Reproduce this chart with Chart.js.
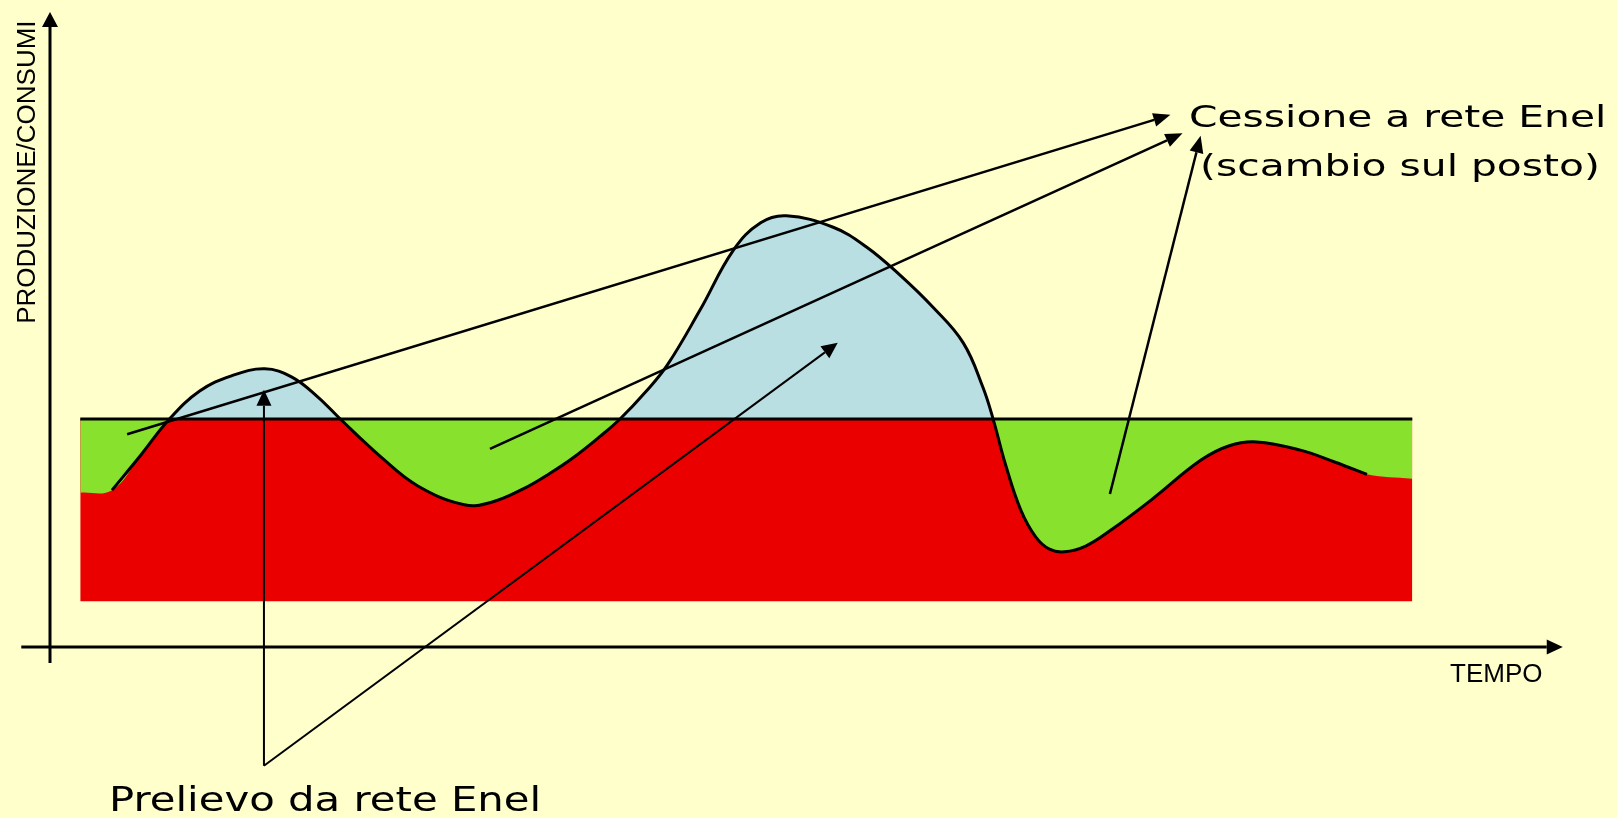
<!DOCTYPE html>
<html lang="it">
<head>
<meta charset="utf-8">
<title>Produzione / consumi</title>
<script src="https://cdn.jsdelivr.net/npm/chart.js@4.4.1/dist/chart.umd.min.js"></script>
<style>
  html, body { margin: 0; padding: 0; background: #ffffcc; overflow: hidden; }
  #grafico { display: block; }
</style>
</head>
<body>
<canvas id="grafico" width="1617" height="818"></canvas>
<script>
// Dati (unità arbitrarie, asse 0-100)
const tempo = [2.0, 4.1, 6.0, 7.9, 9.9, 12.0, 14.2, 16.0, 17.7, 19.2, 21.9, 24.3, 27.4, 29.2, 31.3, 33.1, 34.6, 36.4, 37.7, 39.4, 40.8, 43.0, 45.2, 47.0, 48.7, 51.8, 54.0, 56.2, 58.4, 60.4, 61.7, 62.4, 63.2, 64.2, 65.2, 66.1, 67.1, 68.5, 70.1, 72.8, 76.1, 78.0, 79.8, 82.7, 85.0, 87.1, 90.1];
const produzione = [24.3, 24.7, 30.2, 35.9, 40.3, 42.7, 43.8, 42.5, 39.4, 35.9, 29.9, 25.4, 22.4, 22.8, 24.9, 27.4, 29.8, 33.2, 35.9, 40.2, 44.3, 53.1, 62.5, 66.8, 67.9, 66.1, 63.0, 58.6, 53.5, 47.9, 40.9, 35.7, 28.7, 21.6, 17.3, 15.4, 15.0, 15.9, 18.3, 23.1, 29.4, 31.7, 32.3, 31.0, 29.1, 27.2, 26.5];
const tempoConsumi = [2.0, 90.1];
const consumi = [35.9, 35.9];
const baseArea = 7.2;

// Etichette
const titoloY = 'PRODUZIONE/CONSUMI';
const titoloX = 'TEMPO';
const testoCessione = ['Cessione a rete Enel', '(scambio sul posto)'];
const testoPrelievo = 'Prelievo da rete Enel';

// Palette
const palette = {
  sfondo: '#ffffcc',
  rosso: '#eb0000',
  verde: '#87e12d',
  azzurro: '#b9dfe3',
  nero: '#000000'
};

// Frecce di annotazione, in unità del grafico: [t0, v0, t1, v1]
const frecceCessione = [
  [5.1, 33.5, 74.1, 83.8],
  [29.1, 31.2, 74.9, 80.9],
  [70.1, 24.1, 76.1, 80.5]
];
const frecceOrigine = [14.15, -18.7];
const freccePrelievo = [
  [14.15, 40.5],
  [52.1, 47.9]
];

function freccia(ctx, x0, y0, x1, y1, lung, mezza) {
  const ang = Math.atan2(y1 - y0, x1 - x0);
  const bx = x1 - lung * Math.cos(ang);
  const by = y1 - lung * Math.sin(ang);
  ctx.beginPath();
  ctx.moveTo(x0, y0);
  ctx.lineTo(bx, by);
  ctx.stroke();
  ctx.beginPath();
  ctx.moveTo(x1, y1);
  ctx.lineTo(bx - mezza * Math.sin(ang), by + mezza * Math.cos(ang));
  ctx.lineTo(bx + mezza * Math.sin(ang), by - mezza * Math.cos(ang));
  ctx.closePath();
  ctx.fill();
}

function testoLargo(ctx, testo, x, y, font, scala) {
  ctx.save();
  ctx.translate(x, y);
  ctx.scale(scala, 1);
  ctx.font = font;
  ctx.textAlign = 'left';
  ctx.textBaseline = 'alphabetic';
  ctx.fillText(testo, 0, 0);
  ctx.restore();
}

// Sfondo giallo
const sfondo = {
  id: 'sfondo',
  beforeDraw(chart) {
    const { ctx, width, height } = chart;
    ctx.save();
    ctx.fillStyle = palette.sfondo;
    ctx.fillRect(0, 0, width, height);
    ctx.restore();
  }
};

// Assi con frecce, testi e frecce di annotazione
const annotazioni = {
  id: 'annotazioni',
  afterDraw(chart) {
    const ctx = chart.ctx;
    const sx = chart.scales.x, sy = chart.scales.y;
    const px = v => sx.getPixelForValue(v);
    const py = v => sy.getPixelForValue(v);
    ctx.save();
    ctx.strokeStyle = palette.nero;
    ctx.fillStyle = palette.nero;
    ctx.lineCap = 'butt';

    // assi
    ctx.lineWidth = 3;
    freccia(ctx, px(0), py(-2.5), px(0), py(100), 15, 8);
    freccia(ctx, px(-1.9), py(0), px(100.05), py(0), 16, 7.5);

    // titoli assi
    ctx.save();
    ctx.translate(px(-0.99), py(50.9));
    ctx.rotate(-Math.PI / 2);
    ctx.font = '26px "Liberation Sans", Arial, sans-serif';
    ctx.textAlign = 'left';
    ctx.textBaseline = 'alphabetic';
    ctx.fillText(titoloY, 0, 0);
    ctx.restore();

    ctx.font = '26px "Liberation Sans", Arial, sans-serif';
    ctx.textAlign = 'left';
    ctx.textBaseline = 'alphabetic';
    ctx.fillText(titoloX, px(92.6), py(-5.5));

    // frecce cessione
    ctx.lineWidth = 2.5;
    frecceCessione.forEach(f => freccia(ctx, px(f[0]), py(f[1]), px(f[2]), py(f[3]), 17, 7));

    // frecce prelievo
    ctx.lineWidth = 2;
    freccePrelievo.forEach(f => freccia(ctx, px(frecceOrigine[0]), py(frecceOrigine[1]), px(f[0]), py(f[1]), 16, 7.5));

    // testi
    const fontCessione = '30px "DejaVu Sans", Verdana, sans-serif';
    testoLargo(ctx, testoCessione[0], px(75.33), py(81.9), fontCessione, 1.36);
    testoLargo(ctx, testoCessione[1], px(76.06), py(74.2), fontCessione, 1.36);
    testoLargo(ctx, testoPrelievo, px(3.9), py(-25.8), '34px "DejaVu Sans", Verdana, sans-serif', 1.23);

    ctx.restore();
  }
};

const puntiProduzione = tempo.map((t, i) => ({ x: t, y: produzione[i] }));

new Chart(document.getElementById('grafico'), {
  type: 'line',
  data: {
    datasets: [
      {
        // solo il tratto nero della curva di produzione
        label: 'Produzione',
        data: puntiProduzione.slice(1, -1),
        borderColor: palette.nero,
        borderWidth: 3,
        pointRadius: 0,
        tension: 0.4,
        fill: false
      },
      {
        // aree: azzurro sopra i consumi, verde sotto
        label: 'Produzione (aree)',
        data: puntiProduzione,
        borderWidth: 0,
        borderColor: 'rgba(0,0,0,0)',
        pointRadius: 0,
        tension: 0.4,
        fill: { target: 2, above: palette.azzurro, below: palette.verde }
      },
      {
        label: 'Consumi',
        data: tempoConsumi.map((t, i) => ({ x: t, y: consumi[i] })),
        borderColor: palette.nero,
        borderWidth: 3,
        pointRadius: 0,
        tension: 0,
        backgroundColor: palette.rosso,
        fill: { value: baseArea }
      }
    ]
  },
  options: {
    responsive: false,
    animation: false,
    devicePixelRatio: 1,
    layout: { padding: { left: 50, right: 55, top: 12, bottom: 171 } },
    plugins: {
      legend: { display: false },
      tooltip: { enabled: false },
      filler: { drawTime: 'beforeDatasetsDraw' }
    },
    scales: {
      x: { type: 'linear', min: 0, max: 100, display: false },
      y: { type: 'linear', min: 0, max: 100, display: false }
    }
  },
  plugins: [sfondo, annotazioni]
});
</script>
</body>
</html>
